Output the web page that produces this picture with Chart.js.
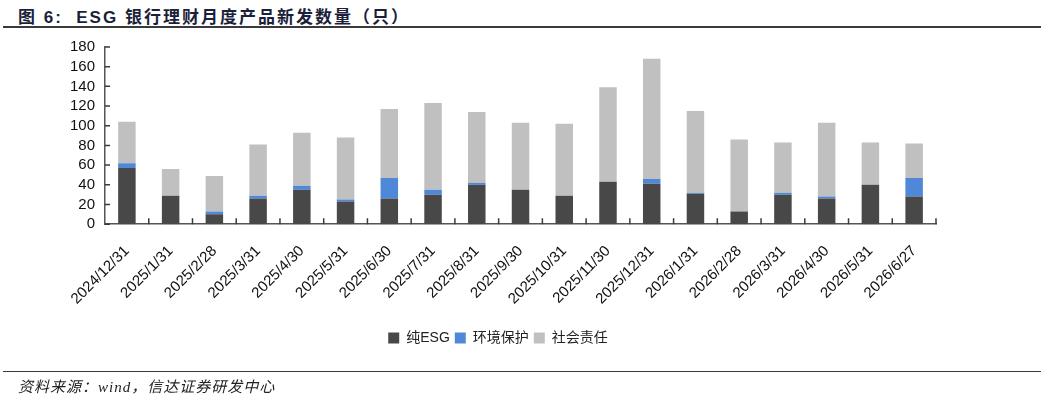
<!DOCTYPE html>
<html>
<head>
<meta charset="utf-8">
<script src="https://cdn.jsdelivr.net/npm/chart.js@4.4.1/dist/chart.umd.min.js"></script>
<style>
  body { margin: 0; background: #fff; width: 1049px; height: 400px; overflow: hidden; position: relative; }
  #title { position: absolute; left: 18px; top: 3px; font: bold 17px "Liberation Sans", "Noto Sans CJK SC", sans-serif; color: #1b1f3a; letter-spacing: 2px; white-space: pre; }
  #title .cn { font-family: "Noto Sans CJK SC", sans-serif; }
  #topline { position: absolute; left: 3px; width: 1038px; top: 26px; height: 2px; background: #3a3a3a; }
  #botline { position: absolute; left: 3px; width: 1038px; top: 371px; height: 1px; background: #3a3a3a; }
  #source { position: absolute; left: 18px; top: 375px; font: italic 15px "Liberation Serif", "Noto Sans CJK SC", serif; color: #222; letter-spacing: 1px; }
  #wrap { position: absolute; left: 0; top: 0; width: 1049px; height: 400px; }
</style>
</head>
<body>
<div id="title">图 6:  ESG <span class="cn">银行理财月度产品新发数量（只）</span></div>
<div id="topline"></div>
<div id="wrap"><canvas id="ChartOfEsg"></canvas></div>
<div id="botline"></div>
<div id="source">资料来源：wind，信达证券研发中心</div>
<script>
// Даты выпуска (категории)
var arrayOfDate = ['2024/12/31', '2025/1/31', '2025/2/28', '2025/3/31', '2025/4/30', '2025/5/31',
  '2025/6/30', '2025/7/31', '2025/8/31', '2025/9/30', '2025/10/31', '2025/11/30', '2025/12/31',
  '2026/1/31', '2026/2/28', '2026/3/31', '2026/4/30', '2026/5/31', '2026/6/27'];

// 纯ESG
var arrayOfPure = [57, 29, 10, 26, 35, 23, 26, 30, 40, 35, 29, 43, 41, 31, 13, 30, 26, 40, 28];
// 环境保护
var arrayOfEnv = [5, 0, 3, 3, 4, 2, 21, 5, 2, 0, 0, 0, 5, 1, 0, 2, 2, 0, 19];
// 社会责任
var arrayOfSocial = [42, 27, 36, 52, 54, 63, 70, 88, 72, 68, 73, 96, 122, 83, 73, 51, 75, 43, 35];

var yTicks = [0, 20, 40, 60, 80, 100, 120, 140, 160, 180];

// внутренние засечки на осях
var innerTicks = {
  id: 'innerTicks',
  afterDraw: function(chart) {
    var ctx = chart.ctx;
    var x = chart.scales.x, y = chart.scales.y;
    var area = chart.chartArea;
    ctx.save();
    ctx.strokeStyle = '#3a3a3a';
    ctx.lineWidth = 1.5;
    ctx.beginPath();
    for (var i = 1; i <= arrayOfDate.length; i++) {
      var px = i < arrayOfDate.length
        ? (x.getPixelForValue(i - 1) + x.getPixelForValue(i)) / 2
        : area.right;
      ctx.moveTo(px, area.bottom);
      ctx.lineTo(px, area.bottom - 6);
    }
    yTicks.forEach(function(v) {
      var py = y.getPixelForValue(v);
      ctx.moveTo(area.left, py);
      ctx.lineTo(area.left + 5, py);
    });
    ctx.stroke();
    ctx.restore();
  }
};

var font = { family: '"Liberation Sans", Arial, sans-serif', size: 15 };

new Chart(document.getElementById('ChartOfEsg'), {
  type: 'bar',
  data: {
    labels: arrayOfDate,
    datasets: [
      { label: '纯ESG', data: arrayOfPure, backgroundColor: '#484848' },
      { label: '环境保护', data: arrayOfEnv, backgroundColor: '#4f88d8' },
      { label: '社会责任', data: arrayOfSocial, backgroundColor: '#c0c0c0' }
    ]
  },
  options: {
    responsive: true,
    maintainAspectRatio: false,
    animation: false,
    layout: { padding: { top: 47, left: 60, right: 113, bottom: 45 } },
    datasets: { bar: { categoryPercentage: 1, barPercentage: 0.4 } },
    plugins: {
      tooltip: { enabled: false },
      legend: {
        position: 'bottom',
        labels: {
          boxWidth: 11, boxHeight: 11, padding: 5, color: '#222',
          font: { family: '"Liberation Sans", "Noto Sans CJK SC", sans-serif', size: 14 }
        }
      }
    },
    scales: {
      x: {
        stacked: true,
        grid: { display: false, drawTicks: false },
        border: { display: true, color: '#555', width: 1.5 },
        ticks: { color: '#111', font: font, maxRotation: 45, minRotation: 45, padding: 18, autoSkip: false }
      },
      y: {
        stacked: true,
        min: 0, max: 180,
        grid: { display: false, drawTicks: false },
        border: { display: true, color: '#555', width: 1.5 },
        ticks: { color: '#111', font: font, stepSize: 20, padding: 10, autoSkip: false }
      }
    }
  },
  plugins: [innerTicks]
});
</script>
</body>
</html>
